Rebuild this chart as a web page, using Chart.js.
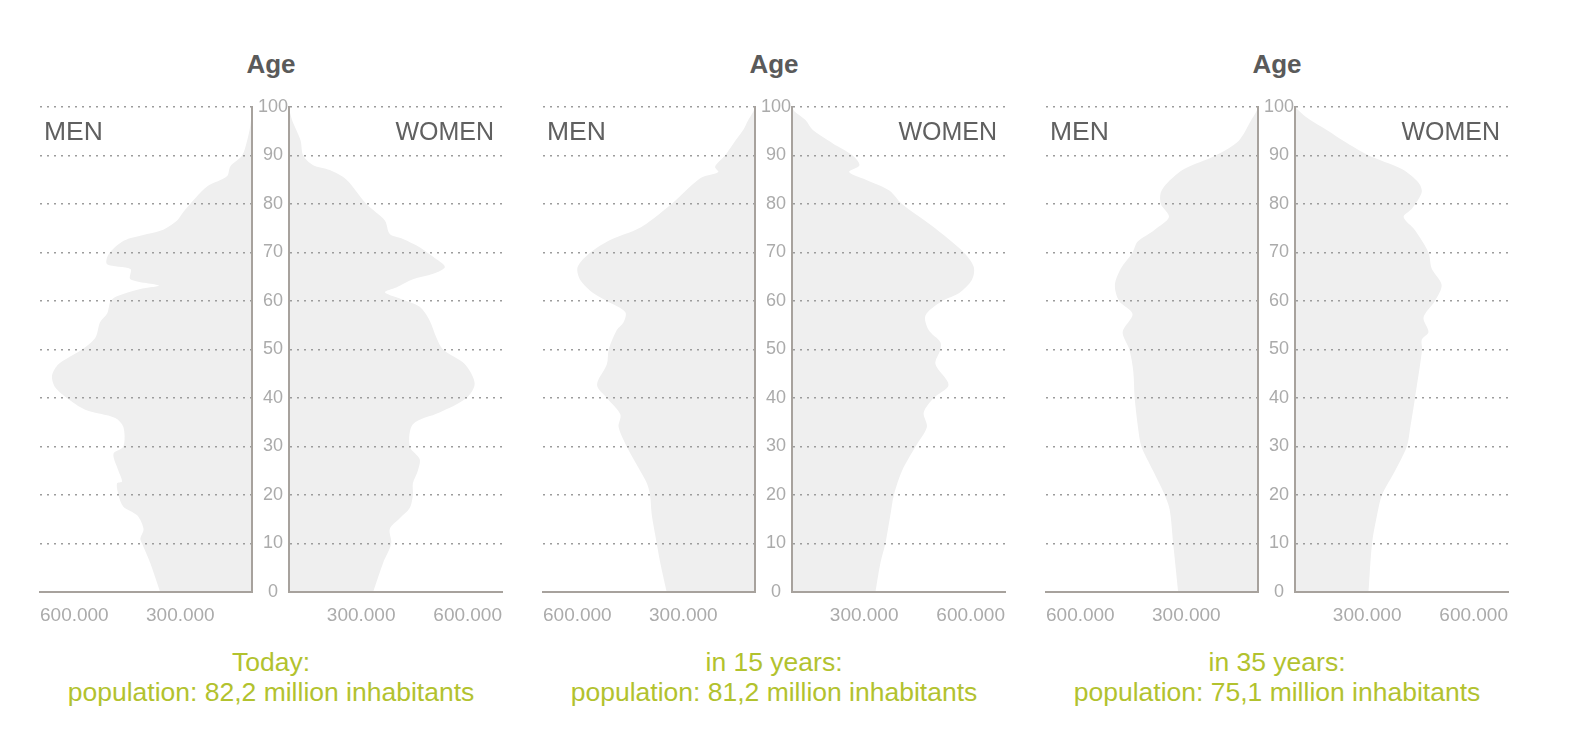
<!DOCTYPE html>
<html>
<head>
<meta charset="utf-8">
<title>Population pyramids</title>
<script src="https://cdn.jsdelivr.net/npm/chart.js@4/dist/chart.umd.min.js"></script>
<style>
  body { margin: 0; background: #fff; font-family: 'Liberation Sans', Arial, sans-serif; }
  #stage { position: relative; width: 1570px; height: 750px; overflow: hidden; }
  .box { position: absolute; }
  .age { position: absolute; top: 52px; width: 120px; text-align: center; font-weight: bold; font-size: 26px; line-height: 25px; color: #5a5a5a; }
  .sex { position: absolute; top: 119px; font-size: 25px; line-height: 25px; color: #606060; }
  .caption { position: absolute; top: 647px; width: 500px; text-align: center; font-size: 26.5px; line-height: 30px; color: #b2c22e; }
</style>
</head>
<body>
<div id="stage"></div>
<script>
// ---- data (thousands of people per age year) ----
const xTicks = [300, 600];
const ageStep = 10;

const todayMenAge = [0, 6, 10, 11, 13, 15.8, 17.6, 20, 22.4, 22.8, 25, 28.5, 30, 34, 35.9, 37.6, 40, 42.2, 44.6, 47, 50, 52.5, 55.6, 57.4, 60, 61, 62.5, 63.2, 64.5, 66.6, 67.6, 69.6, 72.4, 73.8, 74.7, 76.6, 78, 80, 83.6, 85.7, 87.8, 90, 93, 96, 99];
const todayMen    = [260, 288, 311, 316, 307, 325, 364, 378, 382, 368, 378, 392, 364, 364, 387, 472, 524, 557, 566, 547, 481, 443, 430, 410, 400, 382, 316, 264, 344, 344, 410, 406, 363, 297, 251, 212, 198, 175, 127, 71, 61, 28, 14, 5, 0];
const todayWomenAge = [0, 6, 10, 13, 15.2, 17.3, 20, 22.4, 25, 27.4, 30, 34.6, 37, 40, 43, 47, 50, 52.5, 56, 58.8, 60.5, 61.8, 62.8, 64.5, 65.6, 67, 69.1, 71.1, 72.8, 73.8, 76.6, 80, 85, 87, 88, 90, 93, 95, 97, 99];
const todayWomen    = [237, 265, 288, 284, 312, 340, 349, 349, 363, 368, 340, 349, 424, 500, 523, 495, 434, 415, 396, 368, 312, 270, 302, 349, 406, 439, 406, 368, 321, 284, 270, 218, 162, 115, 68, 40, 33, 22, 10, 2];

const in15MenAge = [0, 6, 10, 15.8, 20, 22.4, 25, 30, 34, 36.6, 40, 42.7, 47, 50, 54, 55.6, 57.7, 60, 61.6, 64.4, 67, 70, 72.6, 74.6, 76, 80, 85.3, 86.6, 87.7, 90, 92.5, 95.3, 97.3, 99, 100];
const in15Men    = [250, 268, 278, 292, 297, 306, 325, 363, 386, 381, 419, 447, 419, 414, 391, 372, 367, 419, 457, 495, 502, 466, 410, 340, 306, 236, 155, 104, 113, 85, 61, 33, 19, 5, 0];
const in15WomenAge = [0, 6, 10, 15.8, 20, 25, 30, 34, 37, 40, 42.7, 47, 50, 51.5, 54, 57, 60, 61.6, 64.4, 67, 70, 75.5, 80, 82.8, 85, 86.6, 88, 90, 92.5, 95.3, 97.3, 99, 100];
const in15Women    = [235, 249, 263, 277, 287, 310, 348, 380, 371, 399, 441, 404, 418, 418, 385, 376, 423, 470, 507, 512, 484, 394, 310, 274, 208, 161, 190, 171, 115, 58, 38, 8, 0];

const in35MenAge = [0, 10, 17, 20, 25, 30, 33.6, 40, 45.5, 50, 53.6, 57.3, 60, 63.3, 66.7, 70, 72.2, 74.6, 77.3, 80, 82.4, 84.4, 87.2, 90, 93, 97.3, 99, 100];
const in35Men    = [226, 240, 250, 264, 297, 330, 339, 349, 353, 364, 383, 355, 393, 405, 388, 355, 341, 294, 252, 275, 275, 256, 209, 120, 55, 19, 5, 0];
const in35WomenAge = [0, 10, 15.8, 20, 25, 30, 33.6, 40, 50, 52, 53.6, 56.6, 60, 63.3, 66.7, 70, 74.6, 77.3, 79, 82.4, 84.4, 87.2, 90, 93, 95, 98, 100];
const in35Women    = [207, 217, 231, 245, 282, 315, 324, 338, 358, 357, 376, 362, 394, 413, 385, 376, 338, 306, 329, 357, 348, 301, 208, 137, 95, 30, 0];

const captions   = ['Today:', 'in 15 years:', 'in 35 years:'];
const population = ['82,2', '81,2', '75,1'];

// ---- styles ----
const FILL = '#efefef';
const AXIS = '#a7a29d';
const TICK = '#ababab';
const DOTS = '#9c9c9c';
const panelX = [0, 503, 1006];

Chart.defaults.font.family = "'Liberation Sans', Arial, sans-serif";

const panels = [
  { menAge: todayMenAge, men: todayMen, womenAge: todayWomenAge, women: todayWomen },
  { menAge: in15MenAge, men: in15Men, womenAge: in15WomenAge, women: in15Women },
  { menAge: in35MenAge, men: in35Men, womenAge: in35WomenAge, women: in35Women },
];

const toPoints = (ages, vals) => ages.map((a, i) => ({ x: vals[i], y: a }));
const gridColor = c => (c.tick && c.tick.value === 0) ? 'rgba(0,0,0,0)' : DOTS;

function sideConfig(ages, vals, isMen) {
  return {
    type: 'line',
    data: {
      datasets: [{
        data: toPoints(ages, vals),
        fill: 'origin',
        backgroundColor: FILL,
        borderWidth: 0,
        pointRadius: 0,
        tension: 0.3,
      }],
    },
    options: {
      indexAxis: 'y',
      responsive: true,
      maintainAspectRatio: false,
      animation: false,
      layout: { padding: isMen ? { left: 10, top: 12, right: 2, bottom: 0 } : { left: 0, top: 12, right: 10, bottom: 0 } },
      plugins: { legend: { display: false }, tooltip: { enabled: false } },
      scales: {
        x: {
          type: 'linear', min: 0, max: 600, reverse: isMen, position: 'bottom',
          afterBuildTicks: s => { s.ticks = xTicks.map(v => ({ value: v })); },
          afterFit: s => { s.height = 48; s.paddingLeft = 0; s.paddingRight = 0; },
          grid: { display: true, drawOnChartArea: false, drawTicks: false },
          border: { display: true, color: AXIS, width: 2, z: 1 },
          ticks: {
            align: isMen ? 'start' : 'end', padding: 12, color: TICK,
            font: { size: 19 }, maxRotation: 0, autoSkip: false,
            callback: v => v + '.000',
          },
        },
        y: {
          type: 'linear', min: 0, max: 100, position: isMen ? 'right' : 'left',
          afterFit: s => { s.width = isMen ? 0 : 35; s.paddingTop = 0; s.paddingBottom = 0; },
          grid: { color: gridColor, lineWidth: 1.5, drawTicks: false, z: 1 },
          border: { display: true, color: AXIS, width: 2, dash: [2, 5], z: 1 },
          ticks: {
            display: !isMen, stepSize: ageStep, color: TICK, padding: 1,
            crossAlign: 'center', font: { size: 18 },
          },
        },
      },
    },
  };
}

const stage = document.getElementById('stage');

function addDiv(cls, left, text, extra) {
  const d = document.createElement('div');
  d.className = cls;
  d.style.left = left + 'px';
  d.textContent = text;
  if (extra) Object.assign(d.style, extra);
  stage.appendChild(d);
  return d;
}

panels.forEach((p, i) => {
  const ox = panelX[i];

  // 男性
  const menBox = document.createElement('div');
  menBox.className = 'box';
  Object.assign(menBox.style, { left: (ox + 30) + 'px', top: '95px', width: '224px', height: '545px' });
  const menCanvas = document.createElement('canvas');
  menBox.appendChild(menCanvas);
  stage.appendChild(menBox);

  // 女性
  const womenBox = document.createElement('div');
  womenBox.className = 'box';
  Object.assign(womenBox.style, { left: (ox + 254) + 'px', top: '95px', width: '258px', height: '545px' });
  const womenCanvas = document.createElement('canvas');
  womenBox.appendChild(womenCanvas);
  stage.appendChild(womenBox);

  new Chart(menCanvas, sideConfig(p.menAge, p.men, true));
  new Chart(womenCanvas, sideConfig(p.womenAge, p.women, false));

  addDiv('age', ox + 211, 'Age');
  addDiv('sex', ox + 44, 'MEN', { fontSize: '26.5px' });
  addDiv('sex', ox + 294, 'WOMEN', { width: '200px', textAlign: 'right' });
  const cap = addDiv('caption', ox + 21, captions[i]);
  const line2 = document.createElement('div');
  line2.textContent = 'population: ' + population[i] + ' million inhabitants';
  cap.appendChild(line2);
});
</script>
</body>
</html>
